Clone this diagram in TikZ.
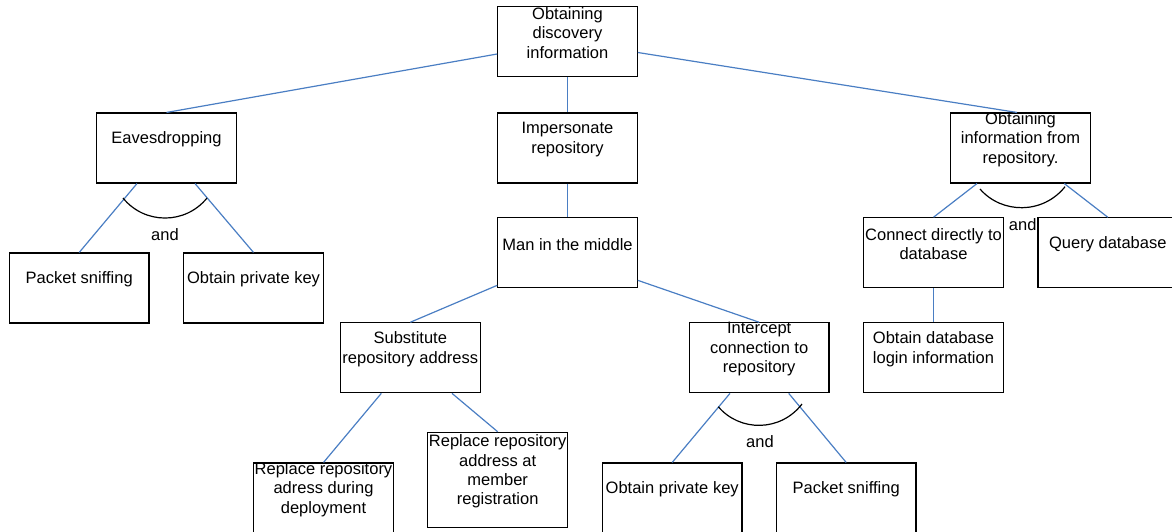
\documentclass[tikz,border=0pt]{standalone}
\usepackage{fontspec}
\setmainfont{Liberation Sans}
\begin{document}
\begin{tikzpicture}[x=1pt,y=-1pt,
  box/.style={draw=black, line width=1.1pt, minimum width=139.6pt,
    minimum height=70pt, inner sep=0pt},
  txt/.style={align=center, font=\fontsize{16.5}{19.3}\selectfont,
    yshift=8.5pt, inner sep=0pt},
  conn/.style={draw={rgb,255:red,74;green,126;blue,195}, line width=1.2pt},
  andarc/.style={draw=black, line width=1.2pt},
  andlbl/.style={font=\fontsize{16.5}{19.3}\selectfont, inner sep=0pt}]
\useasboundingbox (0,0) rectangle (1172,531);
\clip (0,0) rectangle (1172,531);

% attack tree nodes
\node[box, label={[txt]center:Obtaining\\discovery\\information}] (top) at (567.5,41.5) {};
\node[box, label={[txt]center:Eavesdropping}] (eaves) at (166.5,148) {};
\node[box, label={[txt]center:Impersonate\\repository}] (imp) at (567.5,148) {};
\node[box, label={[txt]center:Obtaining\\information from\\repository.}] (info) at (1020.5,148) {};
\node[box, label={[txt]center:Packet sniffing}] (sniff1) at (79.2,288) {};
\node[box, label={[txt]center:Obtain private key}] (key1) at (253.5,288) {};
\node[box, label={[txt]center:Man in the middle}] (mitm) at (567.5,252.8) {};
\node[box, label={[txt]center:Connect directly to\\database}] (connect) at (933.5,252.8) {};
\node[box, label={[txt]center:Query database}] (query) at (1107.8,252.8) {};
\node[box, label={[txt]center:Obtain database\\login information}] (login) at (933.5,357.8) {};
\node[box, label={[txt]center:Substitute\\repository address}] (subst) at (410.3,357.8) {};
\node[box, label={[txt]center:Intercept\\connection to\\repository}] (intercept) at (759.2,357.8) {};
\node[box, label={[txt]center:Replace repository\\adress during\\deployment}] (deploy) at (323.5,498) {};
\node[box, minimum height=95.4pt, label={[txt]center:Replace repository\\address at\\member\\registration}] (member) at (497.7,480) {};
\node[box, label={[txt]center:Obtain private key}] (key2) at (672.2,498) {};
\node[box, label={[txt]center:Packet sniffing}] (sniff2) at (846.2,498) {};

% connectors
\draw[conn] ([yshift=-12.5pt]top.west) -- (eaves.north);
\draw[conn] (top.south) -- (imp.north);
\draw[conn] ([yshift=-11pt]top.east) -- ([xshift=-3.5pt]info.north);
\draw[conn] ([xshift=-29.5pt]eaves.south) -- (sniff1.north);
\draw[conn] ([xshift=28.5pt]eaves.south) -- (key1.north);
\draw[conn] (imp.south) -- (mitm.north);
\draw[conn] ([yshift=3pt]mitm.south west) -- (subst.north);
\draw[conn] ([yshift=8pt]mitm.south east) -- (intercept.north);
\draw[conn] ([xshift=-29pt]subst.south) -- (deploy.north);
\draw[conn] ([xshift=41.7pt]subst.south) -- (member.north);
\draw[conn] ([xshift=-29.2pt]intercept.south) -- (key2.north);
\draw[conn] ([xshift=29.5pt]intercept.south) -- (sniff2.north);
\draw[conn] ([xshift=-43.5pt]info.south) -- (connect.north);
\draw[conn] ([xshift=43.8pt]info.south) -- (query.north);
\draw[conn] (connect.south) -- (login.north);

% "and" arcs with their labels
\draw[andarc] (123,198) .. controls (144.6,224.7) and (185.4,224.7) .. (207,198);
\node[andlbl] (and1) at (165,234.5) {and};
\draw[andarc] (718.3,406.7) .. controls (739.8,432) and (780.5,432) .. (802,404);
\node[andlbl] (and2) at (760,441.5) {and};
\draw[andarc] (980,189) .. controls (1001.9,214.3) and (1043.1,214.3) .. (1065,186.7);
\node[andlbl] (and3) at (1022.7,224.3) {and};
\end{tikzpicture}
\end{document}
